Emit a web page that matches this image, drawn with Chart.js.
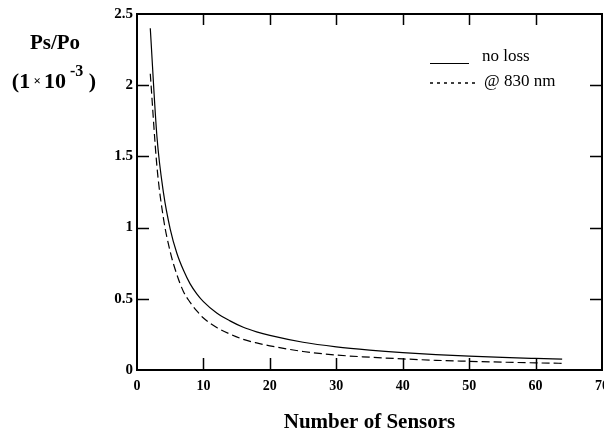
<!DOCTYPE html>
<html><head><meta charset="utf-8">
<script src="https://cdn.jsdelivr.net/npm/chart.js@4.4.1/dist/chart.umd.min.js"></script>
<style>html,body{margin:0;padding:0;background:#fff}canvas{display:block}</style>
</head><body>
<canvas id="c" width="604" height="433"></canvas>
<script>
const sensors = [2,3,4,5,6,7,8,9,10,12,14,16,18,20,25,30,35,40,45,50,55,60,64];
const noLoss  = [2.40,1.64,1.24,0.99,0.82,0.70,0.605,0.535,0.48,0.40,0.345,0.30,0.268,0.243,0.195,0.163,0.14,0.122,0.108,0.097,0.088,0.081,0.076];
const at830   = [2.08,1.43,1.06,0.83,0.67,0.55,0.475,0.415,0.365,0.298,0.252,0.215,0.19,0.17,0.13,0.105,0.09,0.078,0.068,0.061,0.055,0.05,0.047];
const seriesLabels = ['no loss', '@ 830 nm'];
const xMin = 0, xMax = 70, xStep = 10;
const yMin = 0, yMax = 2.5, yStep = 0.5;
const yTitleTop = 'Ps/Po';
const xTitleText = 'Number of Sensors';

const SERIF = '"Liberation Serif", "Times New Roman", serif';

const framePlugin = {
  id: 'frame',
  afterDatasetsDraw(chart) {
    const {ctx, chartArea: a, scales: {x, y}} = chart;
    ctx.save();
    ctx.strokeStyle = '#000';
    ctx.lineWidth = 2;
    ctx.strokeRect(a.left, a.top, a.right - a.left, a.bottom - a.top);
    ctx.lineWidth = 1.5;
    ctx.beginPath();
    x.ticks.forEach(t => {
      if (t.value <= xMin || t.value >= xMax) return;
      const px = Math.round(x.getPixelForValue(t.value)) + 0.5;
      ctx.moveTo(px, a.bottom); ctx.lineTo(px, a.bottom - 12);
      ctx.moveTo(px, a.top); ctx.lineTo(px, a.top + 11);
    });
    y.ticks.forEach(t => {
      if (t.value <= yMin || t.value >= yMax) return;
      const py = Math.round(y.getPixelForValue(t.value)) + 0.5;
      ctx.moveTo(a.left, py); ctx.lineTo(a.left + 12, py);
      ctx.moveTo(a.right, py); ctx.lineTo(a.right - 12, py);
    });
    ctx.stroke();

    // legend
    ctx.fillStyle = '#000';
    ctx.font = '17px ' + SERIF;
    ctx.textAlign = 'left';
    ctx.textBaseline = 'alphabetic';
    ctx.lineWidth = 1.2;
    ctx.setLineDash([]);
    ctx.beginPath(); ctx.moveTo(430, 63.5); ctx.lineTo(469, 63.5); ctx.stroke();
    ctx.fillText(seriesLabels[0], 482, 61);
    ctx.lineWidth = 1.6;
    ctx.setLineDash([3, 4]);
    ctx.beginPath(); ctx.moveTo(430, 83); ctx.lineTo(479, 83); ctx.stroke();
    ctx.setLineDash([]);
    ctx.fillText(seriesLabels[1], 484, 86);

    // y title
    ctx.textAlign = 'center';
    ctx.textBaseline = 'alphabetic';
    ctx.font = 'bold 21px ' + SERIF;
    ctx.fillText(yTitleTop, 55, 49);
    const segs = [
      {t: '(1', f: 'bold 22px ' + SERIF, dy: 0},
      {t: ' \u00d7 ', f: 'bold 13px ' + SERIF, dy: -3},
      {t: '10', f: 'bold 22px ' + SERIF, dy: 0},
      {t: ' -3', f: 'bold 16px ' + SERIF, dy: -12},
      {t: ' )', f: 'bold 22px ' + SERIF, dy: 0}
    ];
    let total = 0;
    segs.forEach(s => { ctx.font = s.f; s.w = ctx.measureText(s.t).width; total += s.w; });
    let cx = 54 - total / 2;
    ctx.textAlign = 'left';
    segs.forEach(s => { ctx.font = s.f; ctx.fillText(s.t, cx, 88 + s.dy); cx += s.w; });
    ctx.restore();
  }
};

new Chart(document.getElementById('c'), {
  type: 'line',
  data: {
    datasets: [
      {label: seriesLabels[0], data: sensors.map((n, i) => ({x: n, y: noLoss[i]})),
       borderColor: '#000', borderWidth: 1.2, pointRadius: 0, cubicInterpolationMode: 'monotone', fill: false},
      {label: seriesLabels[1], data: sensors.map((n, i) => ({x: n, y: at830[i]})),
       borderColor: '#000', borderWidth: 1.2, borderDash: [8, 4], pointRadius: 0, cubicInterpolationMode: 'monotone', fill: false}
    ]
  },
  options: {
    responsive: false,
    animation: false,
    layout: {padding: {left: 0, top: 14, right: 2, bottom: 0}},
    plugins: {legend: {display: false}, tooltip: {enabled: false}},
    scales: {
      x: {
        type: 'linear', min: xMin, max: xMax,
        ticks: {stepSize: xStep, color: '#000', padding: 8, font: {family: SERIF, size: 14, weight: 'bold'}, maxRotation: 0},
        grid: {display: false, drawTicks: false},
        border: {display: false},
        title: {display: true, text: xTitleText, color: '#000', padding: {top: 0, bottom: 0},
                font: {family: SERIF, size: 21, weight: 'bold', lineHeight: 1}},
        afterFit(s) { s.height = 63; s.paddingRight = 0; s.paddingLeft = 0; }
      },
      y: {
        type: 'linear', min: yMin, max: yMax,
        ticks: {stepSize: yStep, color: '#000', padding: 4, font: {family: SERIF, size: 15, weight: 'bold'},
                callback: v => String(v)},
        grid: {display: false, drawTicks: false},
        border: {display: false},
        afterFit(s) { s.width = 137; s.paddingTop = 0; s.paddingBottom = 0; }
      }
    }
  },
  plugins: [framePlugin]
});
</script>
</body></html>
